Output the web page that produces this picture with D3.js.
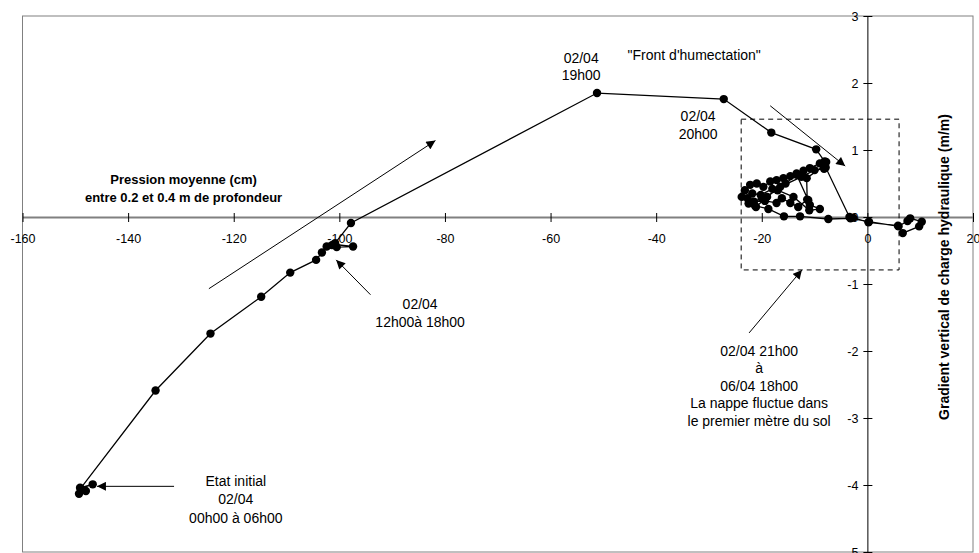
<!DOCTYPE html>
<html><head><meta charset="utf-8">
<script src="https://cdn.jsdelivr.net/npm/d3@7"></script>
<style>
html,body{margin:0;padding:0;background:#fff;}
svg text{font-family:"Liberation Sans",Arial,sans-serif;}
</style></head>
<body><svg id="c" width="979" height="553"></svg>
<script>
// Pression moyenne (cm) between 0.2 and 0.4 m depth, in time order
const pressure = [-149.3,-148.0,-149.1,-146.7,-149.0,-134.8,-124.4,-114.8,-109.3,-104.4,-103.3,-102.4,-101.4,-100.8,-100.5,-97.4,-101.0,-97.8,
  -51.2,-27.2,-18.2,-9.7,-8.1,-7.9,-3.4,-2.7,0.2,5.8,6.7,9.8,10.3,8.1,7.6,5.9,0.3,-3.2,-7.4,-12.75,-15.8,-18.75,-21.3,-23.8,
  -23.2,-22.2,-20.95,-19.7,-18.4,-17.2,-15.9,-14.6,-13.4,-12.1,-10.9,-9.0,-7.8,-8.3,-11.5,-11.4,-13.1,-14.6,-16.2,-17.2,-19.4,
  -21.5,-22.7,-21.8,-20.2,-18.0,-15.5,-13.4,-11.2,-10.9,-9.0,-11.0,-14.0,-17.0,-20.0,-22.5,-21.1,-19.0,-16.5,-12.5,-10.0,-8.2];
// Gradient vertical de charge hydraulique (m/m)
const gradient = [-4.13,-4.09,-4.04,-3.99,-4.05,-2.59,-1.74,-1.19,-0.83,-0.64,-0.53,-0.44,-0.42,-0.39,-0.45,-0.44,-0.41,-0.09,
  1.85,1.76,1.26,1.01,0.83,0.74,0.00,-0.01,-0.08,-0.13,-0.24,-0.14,-0.07,-0.02,-0.06,-0.14,-0.07,-0.02,-0.03,0.01,0.01,0.12,0.17,0.30,
  0.40,0.48,0.50,0.45,0.53,0.55,0.58,0.61,0.65,0.69,0.73,0.80,0.82,0.76,0.58,0.26,0.15,0.21,0.28,0.21,0.24,
  0.23,0.28,0.35,0.33,0.42,0.50,0.63,0.25,0.18,0.12,0.10,0.30,0.40,0.28,0.20,0.15,0.30,0.45,0.60,0.70,0.72];
const xTicks = [-160,-140,-120,-100,-80,-60,-40,-20,0,20];
const yTicks = [-5,-4,-3,-2,-1,0,1,2,3];
const yTitle = "Gradient vertical de charge hydraulique (m/m)";
// annotations (data coordinates)
const notes = [
  {x:-129.5, y:0.50, bold:true, size:13, lines:["Pression moyenne (cm)","entre 0.2 et 0.4 m de profondeur"], lh:18},
  {x:-54.2, y:2.30, lines:["02/04","19h00"], lh:17.5},
  {x:-32.8, y:2.35, lines:["\"Front d'humectation\""], lh:17},
  {x:-32.05, y:1.43, lines:["02/04","20h00"], lh:17.5},
  {x:-84.7, y:-1.37, lines:["02/04","12h00à 18h00"], lh:18},
  {x:-20.5, y:-2.07, lines:["02/04 21h00","à","06/04 18h00","La nappe fluctue dans","le premier mètre du sol"], lh:17.5},
  {x:-119.6, y:-4.01, lines:["Etat initial","02/04","00h00 à 06h00"], lh:18.5}
];
const arrows = [
  {x1:-124.7,y1:-1.07,x2:-81.8,y2:1.14},
  {x1:-94.1,y1:-1.16,x2:-100.6,y2:-0.64},
  {x1:-18.4,y1:1.66,x2:-4.2,y2:0.76},
  {x1:-22.4,y1:-1.73,x2:-12.4,y2:-0.79},
  {x1:-131.3,y1:-4.02,x2:-145.9,y2:-4.02}
];
const box = {x0:-23.9, x1:6.0, y0:-0.79, y1:1.46};

const svg = d3.select("#c");
const x = d3.scaleLinear().domain([-160,20]).range([22.5,973]);
const y = d3.scaleLinear().domain([-5,3]).range([552,16]);

svg.append("defs").append("marker").attr("id","ah").attr("viewBox","0 0 10 10")
  .attr("refX",10).attr("refY",5).attr("markerWidth",10).attr("markerHeight",9)
  .attr("markerUnits","userSpaceOnUse").attr("orient","auto")
  .append("path").attr("d","M0,0L10,5L0,10Z").attr("fill","#000");

// plot border
svg.append("rect").attr("x",x(-160)).attr("y",y(3)).attr("width",x(20)-x(-160)).attr("height",y(-5)-y(3))
  .attr("fill","none").attr("stroke","#808080").attr("stroke-width",1);

const fmt = d => String(d);
// x axis at y=0
const xAxis = d3.axisBottom(x).tickValues(xTicks).tickSize(0).tickPadding(0).tickFormat(fmt);
const gx = svg.append("g").attr("transform",`translate(0,${y(0)})`).call(xAxis);
gx.select(".domain").attr("stroke","#808080").attr("stroke-width",2);
gx.selectAll(".tick line").remove();
gx.selectAll(".tick").append("line").attr("y1",-4).attr("y2",5).attr("stroke","#000");
gx.selectAll(".tick text").attr("dy",null).attr("y",26).attr("font-size",12.5).attr("fill","#000")
  .attr("font-family","Liberation Sans, Arial, sans-serif");

// y axis at x=0
const yAxis = d3.axisLeft(y).tickValues(yTicks).tickSize(0).tickPadding(0).tickFormat(fmt);
const gy = svg.append("g").attr("transform",`translate(${x(0)},0)`).call(yAxis);
gy.select(".domain").attr("stroke","#000").attr("stroke-width",1);
gy.selectAll(".tick line").remove();
gy.selectAll(".tick").append("line").attr("x1",-4).attr("x2",5).attr("stroke","#000");
gy.selectAll(".tick text").attr("x",-9).attr("font-size",12.5).attr("fill","#000")
  .attr("font-family","Liberation Sans, Arial, sans-serif");

// dashed box
svg.append("rect").attr("x",x(box.x0)).attr("y",y(box.y1)).attr("width",x(box.x1)-x(box.x0)).attr("height",y(box.y0)-y(box.y1))
  .attr("fill","none").attr("stroke","#000").attr("stroke-width",1).attr("stroke-dasharray","5,4");

// data line and markers
const pts = pressure.map((p,i)=>[p,gradient[i]]);
svg.append("path").datum(pts).attr("fill","none").attr("stroke","#000").attr("stroke-width",1.3)
  .attr("d",d3.line().x(d=>x(d[0])).y(d=>y(d[1])));
svg.append("g").selectAll("circle").data(pts).join("circle")
  .attr("cx",d=>x(d[0])).attr("cy",d=>y(d[1])).attr("r",4.2).attr("fill","#000");

// arrows
svg.append("g").selectAll("line").data(arrows).join("line")
  .attr("x1",d=>x(d.x1)).attr("y1",d=>y(d.y1)).attr("x2",d=>x(d.x2)).attr("y2",d=>y(d.y2))
  .attr("stroke","#000").attr("stroke-width",1).attr("marker-end","url(#ah)");

// annotation texts
notes.forEach(n=>{
  const t = svg.append("text").attr("x",x(n.x)).attr("y",y(n.y)).attr("text-anchor","middle")
    .attr("font-size",n.size||14).attr("font-weight",n.bold?"bold":"normal").attr("fill","#000");
  n.lines.forEach((l,i)=>t.append("tspan").attr("x",x(n.x)).attr("dy",i===0?0:n.lh).text(l));
});

// y title
svg.append("text").attr("transform","translate(949,267) rotate(-90)").attr("text-anchor","middle")
  .attr("font-size",14).attr("font-weight","bold").attr("fill","#000").text(yTitle);
</script></body></html>
